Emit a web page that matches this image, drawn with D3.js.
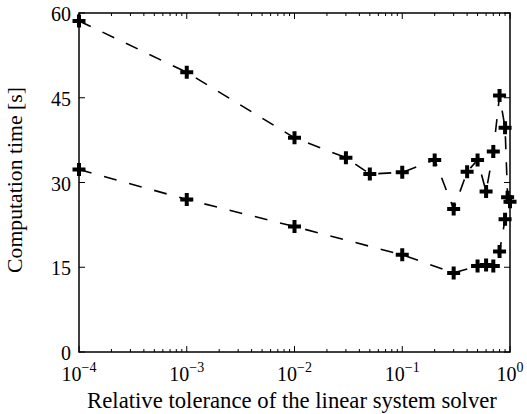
<!DOCTYPE html>
<html><head><meta charset="utf-8">
<script src="https://cdn.jsdelivr.net/npm/d3@7"></script>
<style>body{margin:0;background:#fff}svg{display:block}</style>
</head><body><svg id="c" width="527" height="414"></svg>
<script>
const upperX = [1e-4, 1e-3, 1e-2, 0.03, 0.05, 0.1, 0.2, 0.3, 0.4, 0.5, 0.6, 0.7, 0.8, 0.9, 0.95];
const upperY = [58.6, 49.5, 37.9, 34.4, 31.5, 31.8, 34.0, 25.3, 31.9, 34.0, 28.4, 35.5, 45.4, 39.7, 27.4];
const lowerX = [1e-4, 1e-3, 1e-2, 0.1, 0.3, 0.5, 0.6, 0.7, 0.8, 0.9, 1.0];
const lowerY = [32.3, 27.0, 22.2, 17.2, 14.0, 15.2, 15.4, 15.2, 17.8, 23.5, 26.6];
const xTickExp = [-4, -3, -2, -1, 0];
const yTicks = [0, 15, 30, 45, 60];
const xLabel = "Relative tolerance of the linear system solver";
const yLabel = "Computation time [s]";

const FONT = "Liberation Serif";
const L = 79, R = 510, T = 13, B = 352;
const svg = d3.select("#c");
const x = d3.scaleLog().domain([1e-4, 1]).range([L, R]);
const y = d3.scaleLinear().domain([0, 60]).range([B, T]);

const minor = [];
for (let e = -4; e < 0; e++) for (let k = 2; k <= 9; k++) minor.push(k * Math.pow(10, e));
const g = svg.append("g");
minor.forEach(v => {
  g.append("line").attr("x1", x(v)).attr("x2", x(v)).attr("y1", B).attr("y2", B - 3).attr("stroke", "#000").attr("stroke-width", 1);
  g.append("line").attr("x1", x(v)).attr("x2", x(v)).attr("y1", T).attr("y2", T + 3).attr("stroke", "#000").attr("stroke-width", 1);
});
xTickExp.forEach(e => {
  const v = Math.pow(10, e);
  g.append("line").attr("x1", x(v)).attr("x2", x(v)).attr("y1", B).attr("y2", B - 6).attr("stroke", "#000").attr("stroke-width", 1);
  g.append("line").attr("x1", x(v)).attr("x2", x(v)).attr("y1", T).attr("y2", T + 6).attr("stroke", "#000").attr("stroke-width", 1);
  const t = g.append("text").attr("y", 381).attr("text-anchor", "start").style("font-family", FONT).attr("font-size", 20);
  t.append("tspan").text("10");
  t.append("tspan").attr("dy", -9).attr("font-size", 14).text(e === 0 ? "0" : "\u2212" + (-e));
  const w = t.node().getComputedTextLength();
  let x0 = x(v) - w / 2;
  if (x0 + w > 526) x0 = 526 - w;
  t.attr("x", x0);
});
yTicks.forEach(v => {
  g.append("line").attr("x1", L).attr("x2", L + 6).attr("y1", y(v)).attr("y2", y(v)).attr("stroke", "#000").attr("stroke-width", 1);
  g.append("line").attr("x1", R).attr("x2", R - 6).attr("y1", y(v)).attr("y2", y(v)).attr("stroke", "#000").attr("stroke-width", 1);
  g.append("text").attr("x", L - 8).attr("y", y(v) + 8).attr("text-anchor", "end").style("font-family", FONT).attr("font-size", 20).text(v);
});
svg.append("rect").attr("x", L).attr("y", T).attr("width", R - L).attr("height", B - T).attr("fill", "none").attr("stroke", "#000").attr("stroke-width", 1.5);

const line = d3.line().x(d => x(d[0])).y(d => y(d[1]));
function series(xs, ys) {
  const pts = xs.map((v, i) => [v, ys[i]]);
  svg.append("path").datum(pts).attr("d", line).attr("fill", "none").attr("stroke", "#000").attr("stroke-width", 1.6).attr("stroke-dasharray", "13,13");
  svg.append("g").selectAll("path").data(pts).join("path")
    .attr("d", d => { const cx = x(d[0]), cy = y(d[1]), s = 6.5; return `M${cx - s},${cy}H${cx + s}M${cx},${cy - s}V${cy + s}`; })
    .attr("stroke", "#000").attr("stroke-width", 4).attr("fill", "none");
}
series(upperX, upperY);
series(lowerX, lowerY);

function fitText(sel, target) {
  const w = sel.node().getComputedTextLength();
  sel.attr("font-size", 20 * target / w);
}
const xl = svg.append("text").attr("x", 292).attr("y", 408).attr("text-anchor", "middle").style("font-family", FONT).attr("font-size", 20).text(xLabel);
fitText(xl, 410);
const yl = svg.append("text").attr("transform", `translate(22,180) rotate(-90)`).attr("text-anchor", "middle").style("font-family", FONT).attr("font-size", 20).text(yLabel);
fitText(yl, 186);
</script></body></html>
